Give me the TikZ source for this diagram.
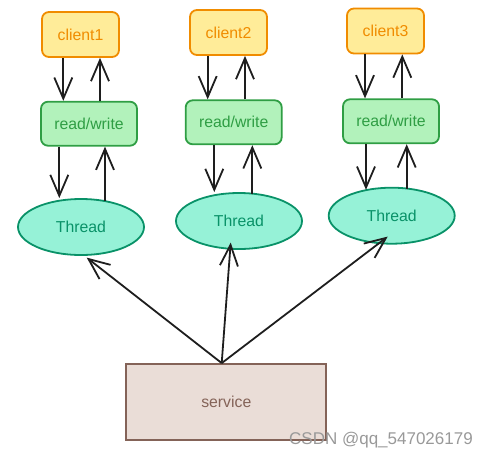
\documentclass[tikz,border=0pt]{standalone}
\usepackage{fontspec}
\setmainfont{Liberation Sans}
\usetikzlibrary{arrows.meta,shapes.geometric}
\definecolor{cliFill}{HTML}{FFEC99}
\definecolor{cliLine}{HTML}{F08C00}
\definecolor{rwFill}{HTML}{B2F2BB}
\definecolor{rwLine}{HTML}{2F9E44}
\definecolor{thFill}{HTML}{96F2D7}
\definecolor{thLine}{HTML}{099268}
\definecolor{svFill}{HTML}{EADDD7}
\definecolor{svLine}{HTML}{846358}
\definecolor{arrCol}{HTML}{1E1E1E}
\tikzset{
  lbl/.style={font=\fontsize{15.8}{18}\selectfont},
  clientbox/.style={lbl,draw=cliLine,fill=cliFill,text=cliLine,line width=1.8pt,rounded corners=7pt,minimum width=77pt,minimum height=45pt,inner sep=0pt},
  rwbox/.style={lbl,draw=rwLine,fill=rwFill,text=rwLine,line width=1.8pt,rounded corners=7pt,minimum width=96pt,minimum height=44pt,inner sep=0pt},
  threadbox/.style={lbl,ellipse,draw=thLine,fill=thFill,text=thLine,line width=1.8pt,minimum width=126pt,minimum height=56pt,inner sep=0pt},
  servicebox/.style={lbl,draw=svLine,fill=svFill,text=svLine,line width=1.8pt,minimum width=200pt,minimum height=76pt,inner sep=0pt},
  arr/.style={draw=arrCol,line width=1.8pt,-{Straight Barb[length=21pt,width=18pt,line width=1.8pt]}},
}
\begin{document}
\begin{tikzpicture}[x=1pt,y=-1pt]
\useasboundingbox (0,0) rectangle (492,459);
% nodes
\node[clientbox] (c1) at (80.5,34.5) {client1};
\node[clientbox] (c2) at (228.5,32.5) {client2};
\node[clientbox] (c3) at (385.5,31) {client3};
\node[rwbox] (r1) at (89,123.7) {read/write};
\node[rwbox] (r2) at (233.7,122.3) {read/write};
\node[rwbox] (r3) at (391,121.3) {read/write};
\node[threadbox] (t1) at (81,227) {Thread};
\node[threadbox] (t2) at (239,221) {Thread};
\node[threadbox] (t3) at (391.7,215.7) {Thread};
\node[servicebox] (s) at (226.3,402) {service};
\node[text=black!40,font=\fontsize{17}{20}\selectfont] (wm) at (381,440) {CSDN @qq\_547026179};
% client <-> read/write
\draw[arr] ([xshift=-17.2pt]c1.south) -- ([xshift=-17.2pt]c1.south |- r1.north);
\draw[arr] ([xshift=11pt]r1.north) -- ([xshift=11pt]r1.north |- c1.south);
\draw[arr] ([xshift=-20.8pt]c2.south) -- ([xshift=-20.8pt]c2.south |- r2.north);
\draw[arr] ([xshift=11.3pt]r2.north) -- ([xshift=11.3pt]r2.north |- c2.south);
\draw[arr] ([xshift=-20.5pt]c3.south) -- ([xshift=-20.5pt]c3.south |- r3.north);
\draw[arr] ([xshift=11.3pt]r3.north) -- ([xshift=11.3pt]r3.north |- c3.south);
% read/write <-> thread
\draw[arr] ([xshift=-29.7pt]r1.south) -- ([xshift=-29.7pt]r1.south |- t1.north);
\draw[arr] ([xshift=16pt,yshift=-3pt]r1.south |- t1.north) -- ([xshift=16pt]r1.south);
\draw[arr] ([xshift=-19.4pt]r2.south) -- ([xshift=-19.4pt]r2.south |- t2.north);
\draw[arr] ([xshift=18.6pt,yshift=-2pt]r2.south |- t2.north) -- ([xshift=18.6pt]r2.south);
\draw[arr] ([xshift=-25pt]r3.south) -- ([xshift=-25pt,yshift=-3pt]r3.south |- t3.north);
\draw[arr] ([xshift=15.7pt,yshift=-2pt]r3.south |- t3.north) -- ([xshift=15.7pt]r3.south);
% service -> threads
\coordinate (sp) at ([xshift=-4.6pt]s.north);
\draw[arr] (sp) -- ([xshift=5.7pt,yshift=-1.7pt]t1.south);
\draw[arr] (sp) -- ([xshift=-8.3pt,yshift=7.3pt]t2.south);
\draw[arr] (sp) -- ([xshift=-4pt,yshift=8pt]t3.south);
\end{tikzpicture}
\end{document}
